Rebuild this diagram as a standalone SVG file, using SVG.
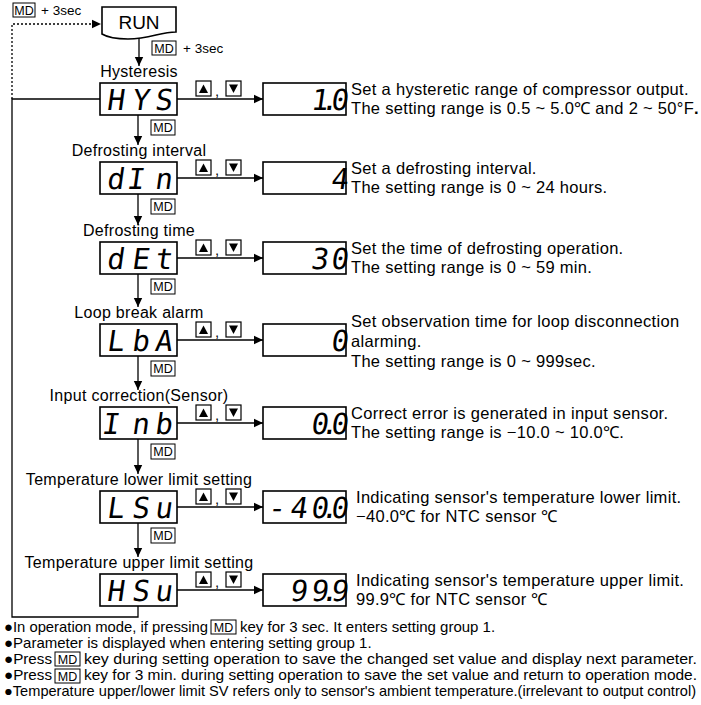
<svg xmlns="http://www.w3.org/2000/svg" width="701" height="705" viewBox="0 0 701 705">
<style>
.t{font-family:"Liberation Sans",Arial,sans-serif;fill:#000}
.lbl{font-size:16px;letter-spacing:0.3px;text-anchor:middle}
.desc{font-size:16.5px;letter-spacing:0.3px}
.note{font-size:15px}
.md{font-size:12.5px;text-anchor:middle}
.seg{font-family:"DejaVu Sans Mono",monospace;font-size:29px;text-anchor:middle;fill:#000}
.box{fill:#fff;stroke:#000;stroke-width:1.6}
.ln{fill:none;stroke:#000;stroke-width:1.3}
.dot{fill:none;stroke:#000;stroke-width:1.3;stroke-dasharray:2 2}
.key{fill:#fff;stroke:#000;stroke-width:1.2}
.mdb{fill:#fff;stroke:#000;stroke-width:1}
</style>
<defs>
<marker id="ah" markerWidth="10" markerHeight="10" refX="9" refY="5" orient="auto" markerUnits="userSpaceOnUse"><path d="M0,0.8 L9,5 L0,9.2 Z" fill="#000"/></marker>
<g id="up"><rect class="key" x="0" y="0" width="15" height="15"/><path d="M3,12 L7.5,3.5 L12,12 Z" fill="#000"/></g>
<g id="dn"><rect class="key" x="0" y="0" width="15" height="15"/><path d="M3,3.5 L7.5,12 L12,3.5 Z" fill="#000"/></g>
</defs>

<g id="connectors">
<path class="dot" d="M12,99 V24 H101" marker-end="url(#ah)"/>
<path class="ln" d="M100,99 H12 V617 H138 V606"/>
<path class="ln" d="M139,37 V66" marker-end="url(#ah)"/>
<path class="ln" d="M138,115 V145" marker-end="url(#ah)"/>
<path class="ln" d="M138,194 V225" marker-end="url(#ah)"/>
<path class="ln" d="M138,274 V307" marker-end="url(#ah)"/>
<path class="ln" d="M138,356 V390" marker-end="url(#ah)"/>
<path class="ln" d="M138,439 V474" marker-end="url(#ah)"/>
<path class="ln" d="M138,523 V557" marker-end="url(#ah)"/>
<path class="ln" d="M177,99 H263" marker-end="url(#ah)"/>
<path class="ln" d="M177,178 H263" marker-end="url(#ah)"/>
<path class="ln" d="M177,258 H263" marker-end="url(#ah)"/>
<path class="ln" d="M177,340 H263" marker-end="url(#ah)"/>
<path class="ln" d="M177,423 H263" marker-end="url(#ah)"/>
<path class="ln" d="M177,507 H263" marker-end="url(#ah)"/>
<path class="ln" d="M177,590 H263" marker-end="url(#ah)"/>
</g>

<g id="connector-labels">
<rect class="mdb" x="13" y="3" width="22" height="14"/><text class="t md" x="24" y="15">MD</text>
<text class="t" x="41" y="15" font-size="13.5">+ 3sec</text>
<rect class="mdb" x="152" y="41" width="24" height="14"/><text class="t md" x="164" y="53">MD</text>
<text class="t" x="183" y="53" font-size="13.5">+ 3sec</text>
<rect class="mdb" x="151" y="120" width="24" height="15"/><text class="t md" x="163" y="132">MD</text>
<rect class="mdb" x="151" y="199" width="24" height="15"/><text class="t md" x="163" y="211">MD</text>
<rect class="mdb" x="151" y="279" width="24" height="15"/><text class="t md" x="163" y="291">MD</text>
<rect class="mdb" x="151" y="361" width="24" height="15"/><text class="t md" x="163" y="373">MD</text>
<rect class="mdb" x="151" y="444" width="24" height="15"/><text class="t md" x="163" y="456">MD</text>
<rect class="mdb" x="151" y="528" width="24" height="15"/><text class="t md" x="163" y="540">MD</text>
<use href="#up" x="196" y="81"/><text class="t" x="215" y="96" font-size="15">,</text><use href="#dn" x="226" y="81"/>
<use href="#up" x="196" y="160"/><text class="t" x="215" y="175" font-size="15">,</text><use href="#dn" x="226" y="160"/>
<use href="#up" x="196" y="240"/><text class="t" x="215" y="255" font-size="15">,</text><use href="#dn" x="226" y="240"/>
<use href="#up" x="196" y="322"/><text class="t" x="215" y="337" font-size="15">,</text><use href="#dn" x="226" y="322"/>
<use href="#up" x="196" y="405"/><text class="t" x="215" y="420" font-size="15">,</text><use href="#dn" x="226" y="405"/>
<use href="#up" x="196" y="489"/><text class="t" x="215" y="504" font-size="15">,</text><use href="#dn" x="226" y="489"/>
<use href="#up" x="196" y="572"/><text class="t" x="215" y="587" font-size="15">,</text><use href="#dn" x="226" y="572"/>
</g>

<g id="run">
<path class="box" d="M102,7 H176 V32 C160,32 150,39 128,39 C114,39 107,37 102,34 Z"/>
<text class="t" x="139" y="29" font-size="19" text-anchor="middle">RUN</text>
</g>

<g id="hys">
<text class="t lbl" x="139" y="77">Hysteresis</text>
<rect class="box" x="100" y="83" width="77" height="32"/>
<g transform="translate(0,110) skewX(-8)"><text class="seg" x="115 140 163" y="0">HYS</text></g>
</g>
<g id="hys-value">
<rect class="box" x="263" y="83" width="83" height="32"/>
<g transform="translate(0,110) skewX(-8)"><text class="seg" x="319 329 339" y="0">1.0</text></g>
<text class="t desc" x="351" y="95">Set a hysteretic range of compressor output.</text>
<text class="t desc" x="351" y="114">The setting range is 0.5 ~ 5.0℃ and 2 ~ 50°F<tspan font-weight="bold">.</tspan></text>
</g>

<g id="din">
<text class="t lbl" x="139" y="156">Defrosting interval</text>
<rect class="box" x="100" y="162" width="77" height="32"/>
<g transform="translate(0,189) skewX(-8)"><text class="seg" x="115 135 163" y="0">dIn</text></g>
</g>
<g id="din-value">
<rect class="box" x="263" y="162" width="83" height="32"/>
<g transform="translate(0,189) skewX(-8)"><text class="seg" x="339" y="0">4</text></g>
<text class="t desc" x="351" y="174">Set a defrosting interval.</text>
<text class="t desc" x="351" y="193">The setting range is 0 ~ 24 hours.</text>
</g>

<g id="det">
<text class="t lbl" x="139" y="236">Defrosting time</text>
<rect class="box" x="100" y="242" width="77" height="32"/>
<g transform="translate(0,269) skewX(-8)"><text class="seg" x="115 140 163" y="0">dEt</text></g>
</g>
<g id="det-value">
<rect class="box" x="263" y="242" width="83" height="32"/>
<g transform="translate(0,269) skewX(-8)"><text class="seg" x="319 339" y="0">30</text></g>
<text class="t desc" x="351" y="254">Set the time of defrosting operation.</text>
<text class="t desc" x="351" y="273">The setting range is 0 ~ 59 min.</text>
</g>

<g id="lba">
<text class="t lbl" x="139" y="318">Loop break alarm</text>
<rect class="box" x="100" y="324" width="77" height="32"/>
<g transform="translate(0,351) skewX(-8)"><text class="seg" x="115 140 163" y="0">LbA</text></g>
</g>
<g id="lba-value">
<rect class="box" x="263" y="324" width="83" height="32"/>
<g transform="translate(0,351) skewX(-8)"><text class="seg" x="339" y="0">0</text></g>
<text class="t desc" x="351" y="327">Set observation time for loop disconnection</text>
<text class="t desc" x="351" y="347">alarming.</text>
<text class="t desc" x="351" y="367">The setting range is 0 ~ 999sec.</text>
</g>

<g id="inb">
<text class="t lbl" x="139" y="401">Input correction(Sensor)</text>
<rect class="box" x="100" y="407" width="77" height="32"/>
<g transform="translate(0,434) skewX(-8)"><text class="seg" x="110 140 163" y="0">Inb</text></g>
</g>
<g id="inb-value">
<rect class="box" x="263" y="407" width="83" height="32"/>
<g transform="translate(0,434) skewX(-8)"><text class="seg" x="319 329 339" y="0">0.0</text></g>
<text class="t desc" x="351" y="419">Correct error is generated in input sensor.</text>
<text class="t desc" x="351" y="438">The setting range is −10.0 ~ 10.0℃.</text>
</g>

<g id="lsu">
<text class="t lbl" x="139" y="485">Temperature lower limit setting</text>
<rect class="box" x="100" y="491" width="77" height="32"/>
<g transform="translate(0,518) skewX(-8)"><text class="seg" x="115 140 163" y="0">LSu</text></g>
</g>
<g id="lsu-value">
<rect class="box" x="263" y="491" width="83" height="32"/>
<g transform="translate(0,518) skewX(-8)"><text class="seg" x="276 298 319 329 339" y="0">-40.0</text></g>
<text class="t desc" x="356" y="503">Indicating sensor's temperature lower limit.</text>
<text class="t desc" x="356" y="522">−40.0℃ for NTC sensor ℃</text>
</g>

<g id="hsu">
<text class="t lbl" x="139" y="568">Temperature upper limit setting</text>
<rect class="box" x="100" y="574" width="77" height="32"/>
<g transform="translate(0,601) skewX(-8)"><text class="seg" x="115 140 163" y="0">HSu</text></g>
</g>
<g id="hsu-value">
<rect class="box" x="263" y="574" width="83" height="32"/>
<g transform="translate(0,601) skewX(-8)"><text class="seg" x="298 319 329 339" y="0">99.9</text></g>
<text class="t desc" x="356" y="586">Indicating sensor's temperature upper limit.</text>
<text class="t desc" x="356" y="605">99.9℃ for NTC sensor ℃</text>
</g>

<g id="notes">
<text class="t note" x="4" y="632" textLength="204" lengthAdjust="spacingAndGlyphs">●In operation mode, if pressing</text>
<rect class="mdb" x="211" y="620" width="25" height="14"/><text class="t md" x="223.5" y="631.5">MD</text>
<text class="t note" x="240" y="632">key for 3 sec. It enters setting group 1.</text>
<text class="t note" x="4" y="648">●Parameter is displayed when entering setting group 1.</text>
<text class="t note" x="4" y="664" textLength="48" lengthAdjust="spacingAndGlyphs">●Press</text>
<rect class="mdb" x="55" y="652" width="25" height="14"/><text class="t md" x="67.5" y="663.5">MD</text>
<text class="t note" x="84" y="664" textLength="613" lengthAdjust="spacingAndGlyphs">key during setting operation to save the changed set value and display next parameter.</text>
<text class="t note" x="4" y="680" textLength="48" lengthAdjust="spacingAndGlyphs">●Press</text>
<rect class="mdb" x="55" y="669" width="25" height="14"/><text class="t md" x="67.5" y="680.5">MD</text>
<text class="t note" x="84" y="680" textLength="613" lengthAdjust="spacingAndGlyphs">key for 3 min. during setting operation to save the set value and return to operation mode.</text>
<text class="t" x="4" y="696" font-size="14.3" textLength="692" lengthAdjust="spacingAndGlyphs">●Temperature upper/lower limit SV refers only to sensor's ambient temperature.(irrelevant to output control)</text>
</g>
</svg>
